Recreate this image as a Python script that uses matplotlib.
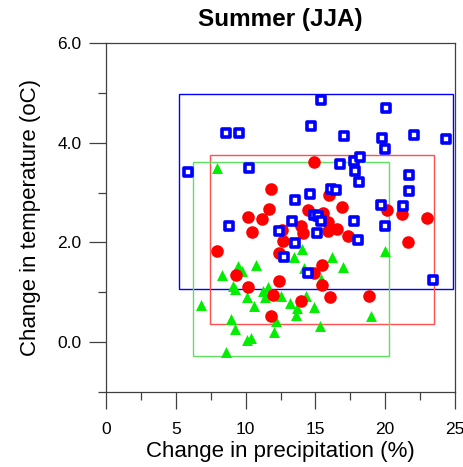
import matplotlib
matplotlib.use("Agg")
import matplotlib.pyplot as plt
from matplotlib.patches import Rectangle
from matplotlib.ticker import MultipleLocator

plt.rcParams['font.family'] = ['Liberation Sans', 'DejaVu Sans']

# === Data ===
blue_x = [5.87, 8.62, 9.50, 10.24, 8.78, 15.39, 14.68, 20.07, 17.06, 19.76,
          20.02, 22.08, 24.32, 17.76, 18.16, 17.85, 18.11, 16.75, 16.13, 16.47,
          14.58, 13.53, 21.69, 21.69, 19.67, 21.31, 20.02, 17.80, 18.07, 14.87,
          15.16, 15.39, 15.11, 13.32, 12.41, 13.51, 12.74, 14.49, 23.39]
blue_y = [3.41, 4.20, 4.20, 3.50, 2.32, 4.86, 4.34, 4.70, 4.13, 4.10,
          3.87, 4.16, 4.07, 3.64, 3.71, 3.43, 3.22, 3.58, 3.08, 3.06,
          2.98, 2.86, 3.36, 3.04, 2.75, 2.74, 2.32, 2.42, 2.05, 2.56,
          2.53, 2.42, 2.18, 2.42, 2.23, 1.98, 1.71, 1.38, 1.25]

red_x = [14.92, 11.84, 15.94, 16.87, 11.67, 10.19, 11.15, 10.48, 7.92, 14.46,
         15.51, 13.96, 14.08, 15.87, 15.92, 16.56, 17.30, 20.10, 21.17, 22.96,
         21.65, 12.63, 12.70, 12.41, 15.44, 9.33, 10.19, 12.41, 14.92, 15.44,
         11.98, 13.96, 16.06, 18.85, 11.79]
red_y = [3.62, 3.07, 2.96, 2.72, 2.68, 2.51, 2.46, 2.20, 1.83, 2.66,
         2.59, 2.32, 2.18, 2.40, 2.22, 2.27, 2.13, 2.65, 2.57, 2.48,
         2.01, 2.24, 2.03, 1.78, 1.54, 1.34, 1.10, 1.22, 1.39, 1.14,
         0.94, 0.82, 0.90, 0.92, 0.53]

green_x = [7.92, 6.83, 8.33, 9.12, 9.43, 9.76, 9.24, 10.72, 10.12, 10.62,
           8.93, 9.24, 10.07, 10.36, 8.57, 11.24, 11.57, 11.41, 12.17, 12.05,
           12.57, 13.16, 13.66, 13.59, 14.30, 14.92, 15.32, 13.48, 14.03, 14.20,
           16.18, 16.95, 20.00, 18.97, 15.40]
green_y = [3.49, 0.75, 1.34, 1.12, 1.52, 1.43, 1.07, 1.54, 0.90, 0.73,
           0.46, 0.26, 0.04, 0.09, -0.20, 1.03, 1.10, 0.90, 0.42, 0.20,
           0.93, 0.78, 0.69, 0.55, 0.92, 0.70, 0.32, 1.71, 1.86, 1.49,
           1.70, 1.50, 1.82, 0.53, 1.27]

# range boxes: (x0, x1, y0, y1)
blue_box = (5.2, 24.87, 1.07, 4.98)
red_box = (7.47, 23.46, 0.37, 3.76)
green_box = (6.2, 20.29, -0.28, 3.61)

# === Figure ===
fig = plt.figure(figsize=(4.63, 4.67), dpi=100)
ax = fig.add_axes([106 / 463, 1 - 392 / 467, 349 / 463, 349 / 467])

for box, col in [(blue_box, '#0000ff'), (red_box, '#ff5050'), (green_box, '#60e060')]:
    x0, x1, y0, y1 = box
    ax.add_patch(Rectangle((x0, y0), x1 - x0, y1 - y0, fill=False,
                           edgecolor=col, linewidth=1.0, zorder=1))

ax.scatter(green_x, green_y, marker='^', s=62, color='#00ee00', linewidths=0, zorder=2)
ax.scatter(red_x, red_y, marker='o', s=82, color='#ff0000', linewidths=0, zorder=3)
ax.scatter(blue_x, blue_y, marker='s', s=30, facecolor='white', edgecolor='#0000ff',
           linewidths=2.6, zorder=4)

# === Axes styling ===
ax.set_xlim(0, 25)
ax.set_ylim(-1, 6)
ax.xaxis.set_major_locator(MultipleLocator(5))
ax.xaxis.set_minor_locator(MultipleLocator(2.5))
ax.yaxis.set_major_locator(MultipleLocator(2))
ax.yaxis.set_minor_locator(MultipleLocator(1))
ax.set_yticks([0, 2, 4, 6])
ax.set_yticklabels(['0.0', '2.0', '4.0', '6.0'])

for sp in ax.spines.values():
    sp.set_color('#404040')
    sp.set_linewidth(0.9)
ax.tick_params(which='major', direction='out', length=12.5, width=0.9,
               color='#404040', labelsize=12.5)
ax.tick_params(which='minor', direction='out', length=5.5, width=0.9, color='#404040')
ax.tick_params(axis='x', which='major', pad=9)
ax.tick_params(axis='y', which='major', pad=5)

ax.set_title('Summer (JJA)', fontsize=17.5, fontweight='bold', pad=12)
ax.set_xlabel('Change in precipitation (%)', fontsize=16, labelpad=3)
ax.set_ylabel('Change in temperature (oC)', fontsize=16, labelpad=12)

fig.savefig('out.png', dpi=100)
